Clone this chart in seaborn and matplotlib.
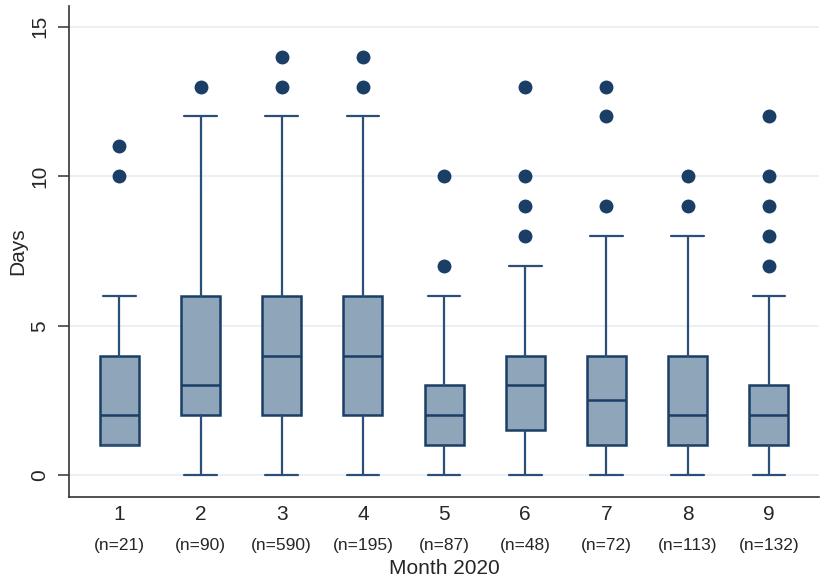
import matplotlib
matplotlib.use("Agg")
import matplotlib.pyplot as plt
import matplotlib.transforms as mtransforms
import seaborn as sns

# box statistics
months = [1, 2, 3, 4, 5, 6, 7, 8, 9]
counts = [21, 90, 590, 195, 87, 48, 72, 113, 132]
whisker_low = [1, 0, 0, 0, 0, 0, 0, 0, 0]
q1 = [1, 2, 2, 2, 1, 1.5, 1, 1, 1]
median = [2, 3, 4, 4, 2, 3, 2.5, 2, 2]
q3 = [4, 6, 6, 6, 3, 4, 4, 4, 3]
whisker_high = [6, 12, 12, 12, 6, 7, 8, 8, 6]
outliers = [
    [10, 11],
    [13],
    [13, 14],
    [13, 14],
    [7, 10],
    [8, 9, 10, 13],
    [9, 12, 13],
    [9, 10],
    [7, 8, 9, 10, 12],
]

sns.set_style("white")
plt.rcParams["font.family"] = ["Liberation Sans", "DejaVu Sans"]

edge = "#1a3e66"
fill = "#8fa5ba"

stats = []
for i in range(len(months)):
    stats.append({
        "whislo": whisker_low[i], "q1": q1[i], "med": median[i],
        "q3": q3[i], "whishi": whisker_high[i], "fliers": outliers[i],
    })

fig = plt.figure(figsize=(8.29, 5.84), dpi=100)
ax = fig.add_axes([0.0832, 0.149, 0.905, 0.841])

for y in [0, 5, 10, 15]:
    ax.axhline(y, color="#e9eff4", lw=1.3, zorder=0)

ax.bxp(stats, positions=months, widths=0.48, patch_artist=True,
       boxprops=dict(facecolor=fill, edgecolor=edge, lw=1.8),
       medianprops=dict(color=edge, lw=1.8),
       whiskerprops=dict(color="#2a4f78", lw=1.6),
       capprops=dict(color="#2a4f78", lw=1.6),
       capwidths=0.4,
       flierprops=dict(marker="o", markerfacecolor=edge, markeredgecolor=edge,
                       markersize=9, linestyle="none"),
       zorder=2)

ax.set_xlim(0.38, 9.62)
ax.set_ylim(-0.73, 15.7)
ax.set_yticks([0, 5, 10, 15])
ax.set_yticklabels(["0", "5", "10", "15"], rotation=90, va="center", fontsize=15)
ax.set_xticks(months)
ax.set_xticklabels([str(m) for m in months], fontsize=15)
ax.tick_params(axis="x", length=0, pad=6)
ax.tick_params(axis="y", left=True, length=8, width=1.1, color="#333333",
               direction="out", pad=6)

trans = mtransforms.blended_transform_factory(ax.transData, ax.transAxes)
for m, n in zip(months, counts):
    ax.text(m, -0.098, f"(n={n})", transform=trans, ha="center", va="center",
            fontsize=12.5)

ax.set_xlabel("Month 2020", fontsize=15)
ax.xaxis.set_label_coords(0.5, -0.126)
ax.set_ylabel("Days", fontsize=15, va="center")
ax.yaxis.set_label_coords(-0.068, 0.5)

sns.despine(ax=ax)
for s in ["left", "bottom"]:
    ax.spines[s].set_color("#333333")
    ax.spines[s].set_linewidth(1.2)

fig.savefig("out.png", dpi=100)
